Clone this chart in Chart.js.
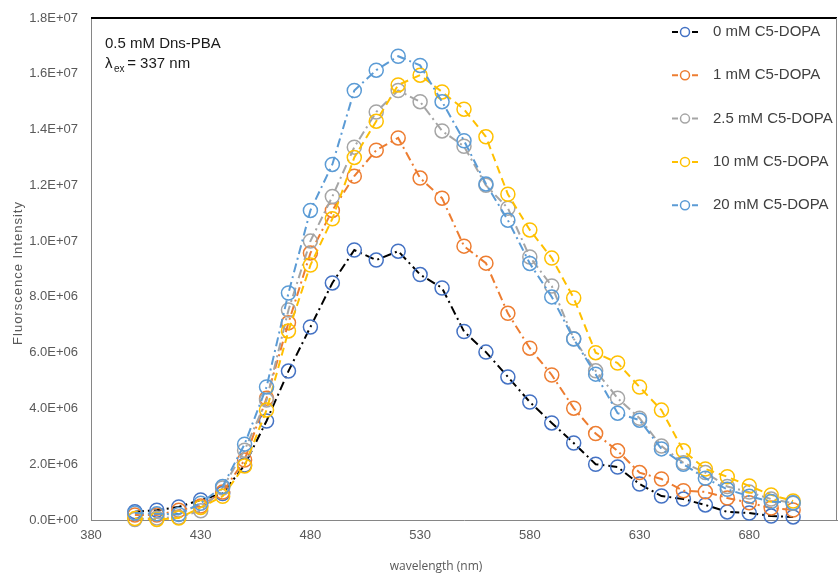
<!DOCTYPE html>
<html>
<head>
<meta charset="utf-8">
<script src="https://cdn.jsdelivr.net/npm/chart.js@4.4.1/dist/chart.umd.min.js"></script>
<style>
  html, body { margin: 0; padding: 0; background: #fff; }
  #wrap { width: 838px; height: 579px; }
</style>
</head>
<body>
<div id="wrap"><canvas id="chart1" width="838" height="579"></canvas></div>
<script>
// wavelength (nm)
const wavelength = [400, 410, 420, 430, 440, 450, 460, 470, 480, 490, 500, 510, 520, 530, 540, 550,
    560, 570, 580, 590, 600, 610, 620, 630, 640, 650, 660, 670, 680, 690, 700];

// fluorescence intensity, in units of 1E+06
const c0mM = [0.30, 0.35, 0.47, 0.72, 0.95, 1.97, 3.55, 5.34, 6.92, 8.50, 9.68, 9.32, 9.64, 8.80, 8.32, 6.76,
    6.02, 5.13, 4.23, 3.48, 2.76, 2.00, 1.90, 1.29, 0.86, 0.75, 0.54, 0.29, 0.25, 0.14, 0.11];
const c1mM = [0.18, 0.18, 0.35, 0.50, 1.00, 2.15, 4.37, 7.07, 9.57, 11.1, 12.33, 13.26, 13.7, 12.26, 11.54, 9.82,
    9.21, 7.41, 6.16, 5.20, 4.01, 3.10, 2.48, 1.70, 1.47, 1.05, 1.01, 0.79, 0.62, 0.43, 0.36];
const c2_5mM = [0.02, 0.07, 0.10, 0.33, 1.15, 2.50, 4.30, 7.53, 10.0, 11.6, 13.37, 14.63, 15.4, 15.0, 13.95, 13.4,
    12.0, 11.18, 9.43, 8.39, 6.50, 5.35, 4.37, 3.65, 2.65, 2.05, 1.70, 1.20, 1.00, 0.75, 0.60];
const c10mM = [0.05, 0.02, 0.07, 0.45, 0.85, 1.94, 3.94, 6.78, 9.14, 10.8, 13.0, 14.3, 15.6, 15.95, 15.35, 14.73,
    13.74, 11.68, 10.4, 9.39, 7.96, 6.00, 5.63, 4.77, 3.94, 2.48, 1.83, 1.55, 1.22, 0.90, 0.68];
const c20mM = [0.25, 0.22, 0.20, 0.60, 1.20, 2.72, 4.77, 8.14, 11.1, 12.75, 15.4, 16.13, 16.63, 16.3, 15.0, 13.6,
    12.05, 10.75, 9.20, 8.00, 6.49, 5.23, 3.83, 3.58, 2.55, 2.00, 1.50, 1.10, 0.85, 0.66, 0.62];

const seriesNames = ['0 mM C5-DOPA', '1 mM C5-DOPA', '2.5 mM C5-DOPA', '10 mM C5-DOPA', '20 mM C5-DOPA'];
const seriesValues = [c0mM, c1mM, c2_5mM, c10mM, c20mM];
const markerColors = ['#4472C4', '#ED7D31', '#A5A5A5', '#FFC000', '#5B9BD5'];
const lineColors = ['#000000', '#ED7D31', '#A5A5A5', '#FFC000', '#5B9BD5'];
const lineDashes = [[9, 4, 2, 4], [9, 4, 2, 4], [9, 4, 2, 4], [8, 5], [9, 4, 2, 4]];

const xTicks = [380, 430, 480, 530, 580, 630, 680];
const xTitle = 'wavelength (nm)';
const yTitle = 'Fluorscence Intensity';
const noteLine1 = '0.5 mM Dns-PBA';

function sci(v) {
    // 2000000 -> 2.0E+06
    const parts = v.toExponential(1).split('e');
    let exp = parseInt(parts[1], 10);
    const sign = exp < 0 ? '-' : '+';
    exp = Math.abs(exp);
    return parts[0] + 'E' + sign + (exp < 10 ? '0' + exp : exp);
}

const datasets = seriesValues.map((vals, i) => ({
    label: seriesNames[i],
    data: vals.map((v, k) => ({ x: wavelength[k], y: v * 1e6 })),
    borderColor: lineColors[i],
    borderWidth: 2,
    borderDash: lineDashes[i],
    pointStyle: 'circle',
    pointRadius: 7,
    pointBorderWidth: 1.5,
    pointBorderColor: markerColors[i],
    pointBackgroundColor: 'rgba(255,255,255,0)',
    showLine: true,
    tension: 0,
    clip: false,
    order: 4 - i
}));

// frame, notes, axis titles and legend drawn on top
const decorations = {
    id: 'decorations',
    afterDraw(chart) {
        const ctx = chart.ctx;
        const a = chart.chartArea;
        ctx.save();

        // top and right edges of the plot box
        ctx.strokeStyle = '#000';
        ctx.lineWidth = 2;
        ctx.beginPath();
        ctx.moveTo(a.left, a.top);
        ctx.lineTo(a.right, a.top);
        ctx.stroke();
        ctx.strokeStyle = '#868686';
        ctx.lineWidth = 1;
        ctx.beginPath();
        ctx.moveTo(a.right - 0.5, a.top);
        ctx.lineTo(a.right - 0.5, a.bottom);
        ctx.stroke();

        // note in upper left
        ctx.fillStyle = '#1a1a1a';
        ctx.textBaseline = 'middle';
        ctx.textAlign = 'left';
        ctx.font = '15px "Liberation Sans", Arial, sans-serif';
        ctx.fillText(noteLine1, 105, 44);
        ctx.fillText('\u03bb', 105, 64);
        ctx.font = '10px "Liberation Sans", Arial, sans-serif';
        ctx.fillText('ex', 114, 69);
        ctx.font = '15px "Liberation Sans", Arial, sans-serif';
        ctx.fillText(' = 337 nm', 123, 64);

        // axis titles
        ctx.fillStyle = '#595959';
        ctx.font = '12px "Open Sans", "Noto Sans", sans-serif';
        ctx.textAlign = 'center';
        ctx.fillText(xTitle, 436, 567);
        ctx.save();
        ctx.translate(18, 273);
        ctx.rotate(-Math.PI / 2);
        ctx.font = '13px "Liberation Sans", Arial, sans-serif';
        ctx.letterSpacing = '1px';
        ctx.fillText(yTitle, 0, 0);
        ctx.restore();

        // legend
        const lx = 672, ly0 = 32, step = 43.3;
        seriesNames.forEach((name, i) => {
            const y = ly0 + i * step;
            ctx.strokeStyle = lineColors[i];
            ctx.lineWidth = 2;
            ctx.setLineDash([]);
            ctx.beginPath();
            ctx.moveTo(lx, y); ctx.lineTo(lx + 6, y);
            ctx.moveTo(lx + 20, y); ctx.lineTo(lx + 26, y);
            ctx.stroke();
            ctx.strokeStyle = markerColors[i];
            ctx.lineWidth = 1.5;
            ctx.beginPath();
            ctx.arc(lx + 13, y, 4.5, 0, Math.PI * 2);
            ctx.stroke();
            ctx.fillStyle = '#404040';
            ctx.textAlign = 'left';
            ctx.font = '15px "Liberation Sans", Arial, sans-serif';
            ctx.fillText(name, lx + 41, y);
        });
        ctx.restore();
    }
};

const ctx = document.getElementById('chart1').getContext('2d');
const chart = new Chart(ctx, {
    type: 'scatter',
    data: { datasets: datasets },
    options: {
        responsive: false,
        animation: false,
        layout: { autoPadding: false, padding: { top: 18, right: 1, left: 0, bottom: 0 } },
        plugins: {
            legend: { display: false },
            tooltip: { enabled: false }
        },
        scales: {
            x: {
                type: 'linear',
                min: 380,
                max: 720,
                afterBuildTicks: s => { s.ticks = xTicks.map(v => ({ value: v })); },
                afterFit: s => { s.height = 59; s.paddingLeft = 0; s.paddingRight = 0; },
                grid: { display: false, drawTicks: false },
                border: { display: true, color: '#868686', width: 1 },
                ticks: {
                    padding: 8,
                    color: '#595959',
                    font: { family: '"Liberation Sans", Arial, sans-serif', size: 13 },
                    maxRotation: 0
                }
            },
            y: {
                min: 0,
                max: 1.8e7,
                afterFit: s => { s.width = 91; s.paddingTop = 0; s.paddingBottom = 0; },
                grid: { display: false, drawTicks: false },
                border: { display: true, color: '#868686', width: 1 },
                ticks: {
                    stepSize: 2e6,
                    padding: 13,
                    color: '#595959',
                    font: { family: '"Liberation Sans", Arial, sans-serif', size: 13 },
                    callback: v => sci(v)
                }
            }
        }
    },
    plugins: [decorations]
});
</script>
</body>
</html>
